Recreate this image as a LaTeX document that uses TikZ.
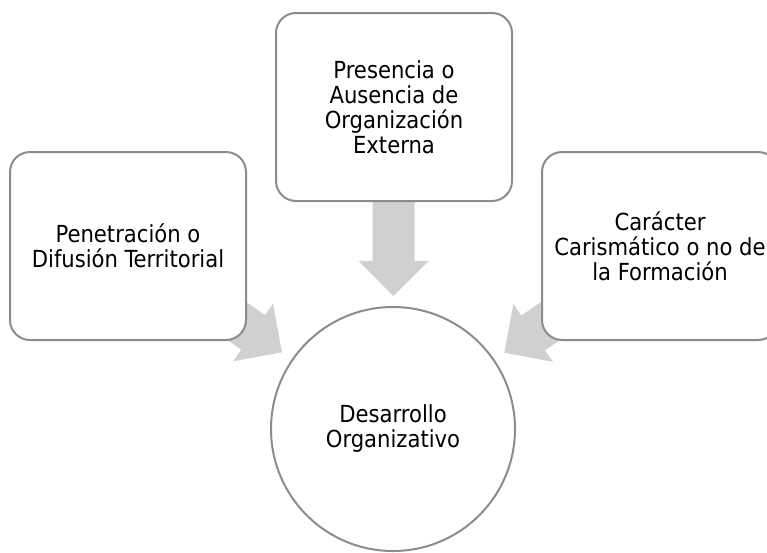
\documentclass[tikz,border=0pt]{standalone}
\usepackage{fontspec}
\setmainfont{DejaVu Sans Condensed}
\usetikzlibrary{arrows.meta,backgrounds}
\definecolor{boxgray}{RGB}{140,140,140}
\definecolor{arrowgray}{RGB}{208,208,208}

\begin{document}
\begin{tikzpicture}[x=1pt, y=-1pt,
  box/.style={draw=boxgray, line width=2pt, rounded corners=20pt, fill=white,
    minimum width=236pt, minimum height=188pt, align=center,
    font=\fontsize{23.5}{25}\selectfont},
  hub/.style={circle, draw=boxgray, line width=2pt, fill=white,
    minimum size=244pt, align=center, font=\fontsize{23.5}{25}\selectfont},
  bigarrow/.style={arrowgray, line width=42pt,
    -{Triangle[length=35pt, width=70pt, line width=0pt]}}]
  \useasboundingbox (0,0) rectangle (767,552);

  % Boxes round the centre
  \node[box] (extern) at (394, 107) {Presencia o\\Ausencia de\\Organización\\Externa};
  \node[box] (territ) at (128, 246) {Penetración o\\Difusión Territorial};
  \node[box] (carism) at (660, 246) {Carácter\\Carismático o no de\\la Formación};

  % Centre
  \node[hub] (desarr) at (393, 429) {Desarrollo\\Organizativo};

  % Block arrows
  \begin{scope}[on background layer]
    \draw[bigarrow, shorten >=10pt] (extern.center) -- (desarr);
    \draw[bigarrow, shorten >=12pt] (territ.center) -- (desarr);
    \draw[bigarrow, shorten >=12pt] (carism.center) -- (desarr);
  \end{scope}
\end{tikzpicture}
\end{document}
